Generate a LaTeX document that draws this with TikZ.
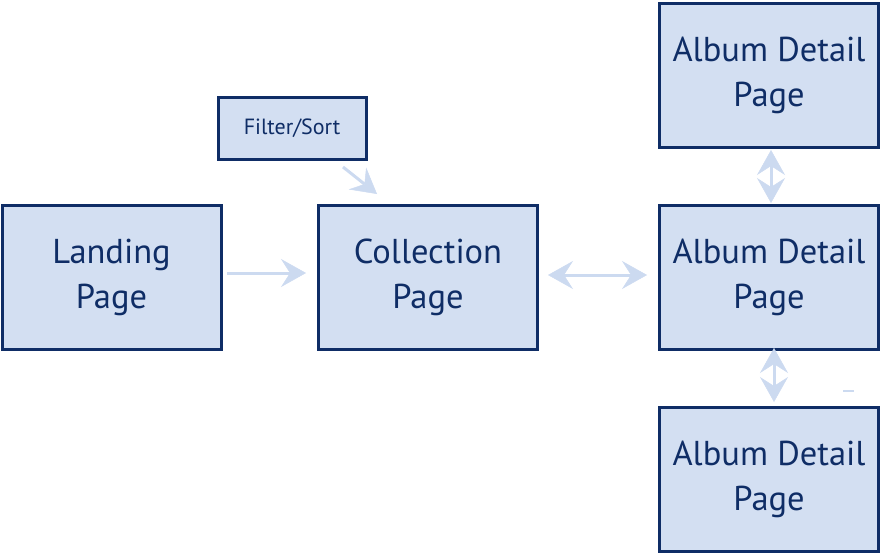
\documentclass[tikz,border=0pt]{standalone}
\usepackage{fontspec}
\setmainfont{PT Sans}
\usetikzlibrary{arrows.meta}
\definecolor{boxfill}{HTML}{D3DFF2}
\definecolor{boxline}{HTML}{0F2D66}
\definecolor{arrowc}{HTML}{CCDAF0}
\tikzset{
  pagebox/.style={draw=boxline, fill=boxfill, line width=3pt, minimum width=219pt, minimum height=144pt, inner sep=0pt, align=center, text=boxline, font=\fontsize{34.5}{45}\selectfont},
  smallbox/.style={draw=boxline, fill=boxfill, line width=3pt, minimum width=148pt, minimum height=62pt, inner sep=0pt, align=center, text=boxline, font=\fontsize{22}{26}\selectfont},
  flow/.style={draw=arrowc, line width=3pt, -{Stealth[length=25pt,width=28pt,inset=9pt,fill=arrowc,line width=0.5pt]}},
  flowboth/.style={draw=arrowc, line width=3pt, {Stealth[length=25pt,width=28pt,inset=9pt,fill=arrowc,line width=0.5pt]}-{Stealth[length=25pt,width=28pt,inset=9pt,fill=arrowc,line width=0.5pt]}},
}
\begin{document}
\begin{tikzpicture}[x=1pt,y=-1pt]
\useasboundingbox (0,0) rectangle (882,554);
\node[pagebox] (land) at (111.5,277) {Landing\\Page};
\node[smallbox] (filt) at (292,128) {Filter/Sort};
\node[pagebox] (coll) at (428,277.5) {Collection\\Page};
\node[pagebox] (alb1) at (769,75) {Album Detail\\Page};
\node[pagebox] (alb2) at (769,277) {Album Detail\\Page};
\node[pagebox] (alb3) at (769,479) {Album Detail\\Page};
\coordinate (a1s) at (227,273);
\coordinate (a1e) at (306,273);
\coordinate (a2s) at (343,167);
\coordinate (a2e) at (377,194);
\coordinate (a3s) at (548,275);
\coordinate (a3e) at (647,275);
\coordinate (a4s) at (771,150);
\coordinate (a4e) at (771,203);
\coordinate (a5s) at (774,348);
\coordinate (a5e) at (774,402);
\coordinate (d1) at (843,391);
\coordinate (d2) at (854,391);
\draw[flow] (a1s) -- (a1e);
\draw[flow] (a2s) -- (a2e);
\draw[flowboth] (a3s) -- (a3e);
\draw[flowboth] (a4s) -- (a4e);
\draw[flowboth] (a5s) -- (a5e);
\draw[draw=arrowc, line width=2pt] (d1) -- (d2);
\end{tikzpicture}
\end{document}
